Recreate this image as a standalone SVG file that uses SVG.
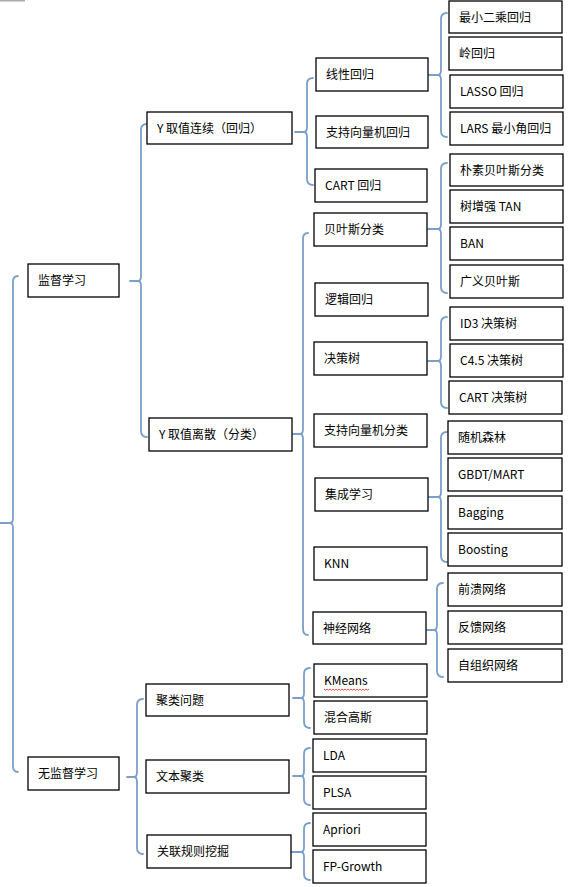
<svg xmlns="http://www.w3.org/2000/svg" width="576" height="887" viewBox="0 0 576 887">
<style>
.b{fill:#fff;stroke:#000;stroke-width:1.3}
.t{font-family:"Noto Sans CJK SC","Noto Sans",sans-serif;font-size:12px;fill:#000}
.c{fill:none;stroke:#7A9FCA;stroke-width:1.8;stroke-linecap:round}
</style>
<rect x="0" y="0" width="25" height="1.5" fill="#aaa"/>
<g id="connectors">
<path class="c" d="M0,523 L10,523 Q13,523 13,518 L13,282 Q13,276 18,276 M10,523 Q13,523 13,528 L13,766 Q13,772 18,772"/>
<path class="c" d="M130,281 L138,281 Q141,281 141,276 L141,130 Q141,124 147,124 M138,281 Q141,281 141,286 L141,431 Q141,437 147,437"/>
<path class="c" d="M127,777 L134,777 Q137,777 137,772 L137,705 Q137,699 143,699 M134,777 Q137,777 137,782 L137,848 Q137,854 143,854"/>
<path class="c" d="M295,132 L304,132 Q307,132 307,127 L307,84 Q307,78 313,78 M304,132 Q307,132 307,137 L307,179 Q307,185 313,185"/>
<path class="c" d="M293,434 L300,434 Q303,434 303,429 L303,239 Q303,233 308,233 M300,434 Q303,434 303,439 L303,629 Q303,635 308,635"/>
<path class="c" d="M293,698 L301,698 Q304,698 304,693 L304,674 Q304,668 310,668 M301,698 Q304,698 304,703 L304,722 Q304,728 310,728"/>
<path class="c" d="M293,776 L301,776 Q304,776 304,771 L304,754 Q304,748 310,748 M301,776 Q304,776 304,781 L304,799 Q304,805 310,805"/>
<path class="c" d="M292,852 L301,852 Q304,852 304,847 L304,829 Q304,823 310,823 M301,852 Q304,852 304,857 L304,874 Q304,880 310,880"/>
<path class="c" d="M429,75 L438,75 Q441,75 441,70 L441,19 Q441,13 447,13 M438,75 Q441,75 441,80 L441,131 Q441,137 447,137"/>
<path class="c" d="M428,229 L438,229 Q441,229 441,224 L441,169 Q441,163 447,163 M438,229 Q441,229 441,234 L441,287 Q441,293 447,293"/>
<path class="c" d="M428,361 L438,361 Q441,361 441,356 L441,323 Q441,317 447,317 M438,361 Q441,361 441,366 L441,402 Q441,408 447,408"/>
<path class="c" d="M429,497 L438,497 Q441,497 441,492 L441,438 Q441,432 447,432 M438,497 Q441,497 441,502 L441,556 Q441,562 447,562"/>
<path class="c" d="M427,630 L434,630 Q437,630 437,625 L437,589 Q437,583 443,583 M434,630 Q437,630 437,635 L437,671 Q437,677 443,677"/>
</g>
<g id="n-jiandu"><rect class="b" x="28" y="264" width="91" height="33"/><text class="t" x="38" y="285">监督学习</text></g>
<g id="n-wujiandu"><rect class="b" x="28" y="757" width="91" height="33"/><text class="t" x="38" y="778">无监督学习</text></g>
<g id="n-lianxu"><rect class="b" x="147" y="112" width="145" height="32"/><text class="t" x="157" y="132.5">Y 取值连续（回归）</text></g>
<g id="n-lisan"><rect class="b" x="149" y="418" width="143" height="33"/><text class="t" x="159" y="439">Y 取值离散（分类）</text></g>
<g id="n-julei"><rect class="b" x="146" y="684" width="143" height="32"/><text class="t" x="156" y="704.5">聚类问题</text></g>
<g id="n-wenben"><rect class="b" x="146" y="760" width="143" height="33"/><text class="t" x="156" y="781">文本聚类</text></g>
<g id="n-guanlian"><rect class="b" x="147" y="835" width="144" height="33"/><text class="t" x="157" y="856">关联规则挖掘</text></g>
<g id="n-xianxing"><rect class="b" x="316" y="58" width="112" height="33"/><text class="t" x="326" y="79">线性回归</text></g>
<g id="n-svr"><rect class="b" x="316" y="116" width="112" height="32"/><text class="t" x="326" y="136.5">支持向量机回归</text></g>
<g id="n-cartr"><rect class="b" x="315" y="169" width="112" height="33"/><text class="t" x="325" y="190">CART 回归</text></g>
<g id="n-bayes"><rect class="b" x="314" y="213" width="113" height="33"/><text class="t" x="324" y="234">贝叶斯分类</text></g>
<g id="n-logit"><rect class="b" x="315" y="283" width="113" height="33"/><text class="t" x="325" y="304">逻辑回归</text></g>
<g id="n-tree"><rect class="b" x="314" y="342" width="113" height="33"/><text class="t" x="324" y="363">决策树</text></g>
<g id="n-svc"><rect class="b" x="314" y="414" width="113" height="33"/><text class="t" x="324" y="435">支持向量机分类</text></g>
<g id="n-ensemble"><rect class="b" x="315" y="478" width="113" height="33"/><text class="t" x="325" y="499">集成学习</text></g>
<g id="n-knn"><rect class="b" x="314" y="547" width="113" height="33"/><text class="t" x="324" y="568">KNN</text></g>
<g id="n-nn"><rect class="b" x="313" y="612" width="113" height="32"/><text class="t" x="323" y="632.5">神经网络</text></g>
<g id="n-kmeans"><rect class="b" x="314" y="664" width="113" height="33"/><text class="t" x="324" y="685">KMeans</text><path d="M324,689 l1.5,1.2 l1.5,-1.2 l1.5,1.2 l1.5,-1.2 l1.5,1.2 l1.5,-1.2 l1.5,1.2 l1.5,-1.2 l1.5,1.2 l1.5,-1.2 l1.5,1.2 l1.5,-1.2 l1.5,1.2 l1.5,-1.2 l1.5,1.2 l1.5,-1.2 l1.5,1.2 l1.5,-1.2 l1.5,1.2 l1.5,-1.2 l1.5,1.2 l1.5,-1.2 l1.5,1.2 l1.5,-1.2 l1.5,1.2 l1.5,-1.2 l1.5,1.2 l1.5,-1.2 l1.5,1.2 l1.5,-1.2" fill="none" stroke="#e02020" stroke-width="0.8"/></g>
<g id="n-gmm"><rect class="b" x="314" y="701" width="113" height="33"/><text class="t" x="324" y="722">混合高斯</text></g>
<g id="n-lda"><rect class="b" x="313" y="739" width="113" height="33"/><text class="t" x="323" y="760">LDA</text></g>
<g id="n-plsa"><rect class="b" x="313" y="776" width="113" height="33"/><text class="t" x="323" y="797">PLSA</text></g>
<g id="n-apriori"><rect class="b" x="313" y="813" width="113" height="33"/><text class="t" x="323" y="834">Apriori</text></g>
<g id="n-fpg"><rect class="b" x="313" y="850" width="113" height="33"/><text class="t" x="323" y="871">FP-Growth</text></g>
<g id="n-ols"><rect class="b" x="449" y="1" width="113" height="32"/><text class="t" x="459" y="21.5">最小二乘回归</text></g>
<g id="n-ridge"><rect class="b" x="449" y="37" width="113" height="33"/><text class="t" x="459" y="58">岭回归</text></g>
<g id="n-lasso"><rect class="b" x="450" y="75" width="113" height="33"/><text class="t" x="460" y="96">LASSO 回归</text></g>
<g id="n-lars"><rect class="b" x="450" y="112" width="113" height="33"/><text class="t" x="460" y="133">LARS 最小角回归</text></g>
<g id="n-nb"><rect class="b" x="450" y="154" width="113" height="32"/><text class="t" x="460" y="174.5">朴素贝叶斯分类</text></g>
<g id="n-tan"><rect class="b" x="450" y="190" width="113" height="33"/><text class="t" x="460" y="211">树增强 TAN</text></g>
<g id="n-ban"><rect class="b" x="450" y="227" width="113" height="33"/><text class="t" x="460" y="248">BAN</text></g>
<g id="n-gbayes"><rect class="b" x="450" y="265" width="113" height="33"/><text class="t" x="460" y="286">广义贝叶斯</text></g>
<g id="n-id3"><rect class="b" x="450" y="307" width="113" height="33"/><text class="t" x="460" y="328">ID3 决策树</text></g>
<g id="n-c45"><rect class="b" x="450" y="344" width="113" height="33"/><text class="t" x="460" y="365">C4.5 决策树</text></g>
<g id="n-cartt"><rect class="b" x="449" y="381" width="113" height="33"/><text class="t" x="459" y="402">CART 决策树</text></g>
<g id="n-rf"><rect class="b" x="448" y="421" width="114" height="33"/><text class="t" x="458" y="442">随机森林</text></g>
<g id="n-gbdt"><rect class="b" x="448" y="458" width="114" height="33"/><text class="t" x="458" y="479">GBDT/MART</text></g>
<g id="n-bagging"><rect class="b" x="448" y="496" width="114" height="33"/><text class="t" x="458" y="517">Bagging</text></g>
<g id="n-boosting"><rect class="b" x="448" y="533" width="114" height="33"/><text class="t" x="458" y="554">Boosting</text></g>
<g id="n-ff"><rect class="b" x="448" y="573" width="114" height="33"/><text class="t" x="458" y="594">前溃网络</text></g>
<g id="n-fb"><rect class="b" x="448" y="611" width="114" height="33"/><text class="t" x="458" y="632">反馈网络</text></g>
<g id="n-som"><rect class="b" x="448" y="649" width="114" height="33"/><text class="t" x="458" y="670">自组织网络</text></g>
</svg>
